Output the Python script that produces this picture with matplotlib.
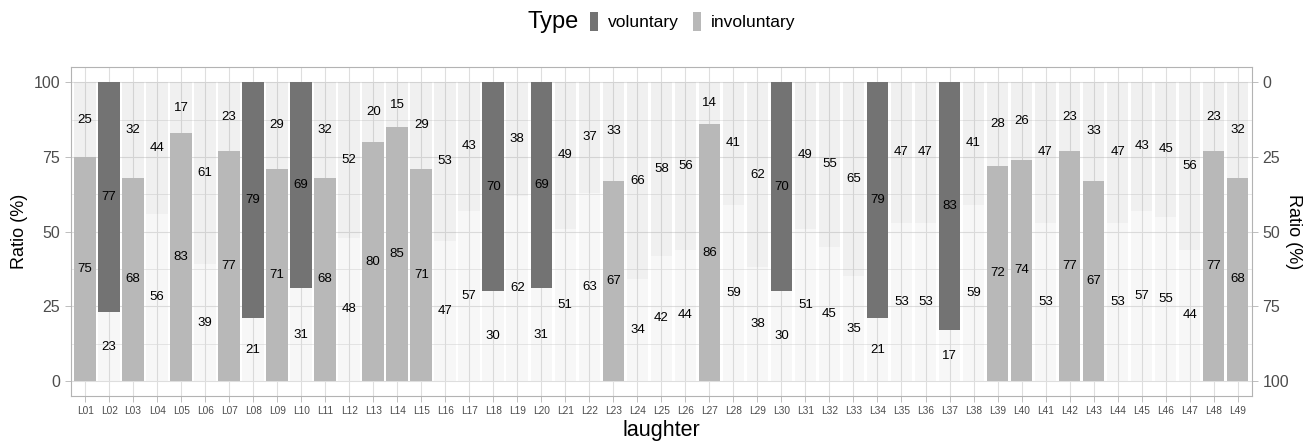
import matplotlib.pyplot as plt
import numpy as np
from matplotlib.patches import Patch

plt.rcParams['font.family'] = ['Liberation Sans', 'DejaVu Sans']

# Ratio of each laughter judged voluntary / involuntary (%)
laughter = [f'L{i:02d}' for i in range(1, 50)]
voluntary = [25, 77, 32, 44, 17, 61, 23, 79, 29, 69, 32, 52, 20, 15, 29, 53, 43,
             70, 38, 69, 49, 37, 33, 66, 58, 56, 14, 41, 62, 70, 49, 55, 65, 79,
             47, 47, 83, 41, 28, 26, 47, 23, 33, 47, 43, 45, 56, 23, 32]
involuntary = [75, 23, 68, 56, 83, 39, 77, 21, 71, 31, 68, 48, 80, 85, 71, 47, 57,
               30, 62, 31, 51, 63, 67, 34, 42, 44, 86, 59, 38, 30, 51, 45, 35, 21,
               53, 53, 17, 59, 72, 74, 53, 77, 67, 53, 57, 55, 44, 77, 68]

vol = np.array(voluntary)
inv = np.array(involuntary)
x = np.arange(1, len(laughter) + 1)

# only the dominant type is highlighted when it reaches two thirds
vol_hi = vol >= 67
inv_hi = inv >= 67

c_vol = '#737373'
c_inv = '#b8b8b8'
grid_c = '#dedede'
text_c = '#4d4d4d'

fig = plt.figure(figsize=(13.09, 4.42), dpi=100)
ax = fig.add_axes([0.054, 0.104, 0.9025, 0.744])

width = 0.9
for i in range(len(x)):
    a_inv = 1.0 if inv_hi[i] else 0.1
    a_vol = 1.0 if vol_hi[i] else 0.1
    ax.bar(x[i], inv[i], width=width, color=c_inv, alpha=a_inv, zorder=2, linewidth=0)
    ax.bar(x[i], vol[i], bottom=inv[i], width=width, color=c_vol, alpha=a_vol,
           zorder=2, linewidth=0)
    ax.text(x[i], inv[i] / 2, str(inv[i]), ha='center', va='center', fontsize=9.5,
            color='black', zorder=3)
    ax.text(x[i], inv[i] + vol[i] / 2, str(vol[i]), ha='center', va='center',
            fontsize=9.5, color='black', zorder=3)

ax.set_xlim(0.4, len(x) + 0.6)
ax.set_ylim(-5, 105)
ax.set_xticks(x)
ax.set_xticklabels(laughter, fontsize=7.3, color=text_c)
ax.set_yticks([0, 25, 50, 75, 100])
ax.set_yticks([12.5, 37.5, 62.5, 87.5], minor=True)
ax.tick_params(axis='y', labelsize=11.5, labelcolor=text_c, color='#b3b3b3',
               length=4, width=0.6)
ax.tick_params(axis='y', which='minor', length=0)
ax.tick_params(axis='x', color='#b3b3b3', length=4, width=0.6, pad=3)
ax.grid(True, which='major', color=grid_c, linewidth=0.8, zorder=0)
ax.grid(True, which='minor', axis='y', color=grid_c, linewidth=0.5, zorder=0)
ax.set_axisbelow(True)
for s in ax.spines.values():
    s.set_color('#b3b3b3')
    s.set_linewidth(0.8)

ax.set_xlabel('laughter', fontsize=15.5, labelpad=3)
ax.set_ylabel('Ratio (%)', fontsize=13, labelpad=4)

# mirrored axis for the voluntary side
ax2 = ax.twinx()
ax2.set_ylim(105, -5)
ax2.set_yticks([0, 25, 50, 75, 100])
ax2.tick_params(axis='y', labelsize=11.5, labelcolor=text_c, color='#b3b3b3',
                length=4, width=0.6)
ax2.set_ylabel('Ratio (%)', fontsize=13, rotation=270, labelpad=9)
for s in ax2.spines.values():
    s.set_visible(False)

handles = [Patch(facecolor=c_vol, label='voluntary'),
           Patch(facecolor=c_inv, label='involuntary')]
fig.text(0.4225, 0.950, 'Type', fontsize=17, ha='center', va='center')
fig.legend(handles=handles, loc='center left', bbox_to_anchor=(0.4388, 0.952),
           ncol=2, frameon=False, fontsize=12.5, handlelength=0.45,
           handleheight=1.3, handletextpad=0.6, columnspacing=0.8)

fig.savefig('out.png', dpi=100)
